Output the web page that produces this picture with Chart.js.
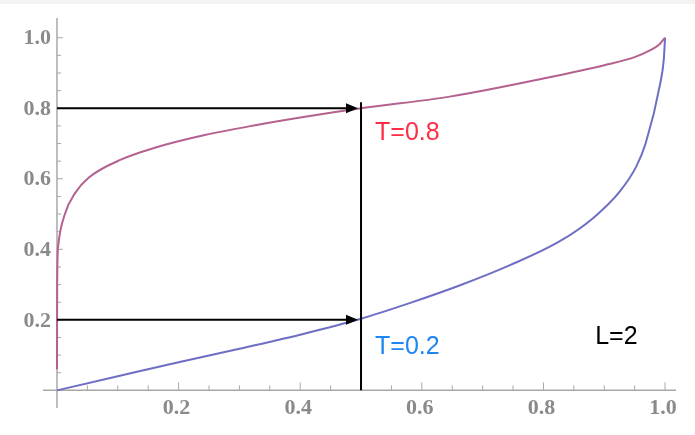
<!DOCTYPE html>
<html lang="en">
<head>
<meta charset="UTF-8">
<title>T curves, L=2</title>
<script src="https://cdn.jsdelivr.net/npm/chart.js"></script>
<style>
  html, body { margin: 0; padding: 0; background: #fff; }
  #wrap { position: relative; width: 695px; height: 435px; }
</style>
</head>
<body>
<div id="wrap"><canvas id="chart"></canvas></div>
<script>
// upper curve (T = 0.8)
const upperX = [0, 0.0003, 0.002, 0.013, 0.03, 0.052, 0.106, 0.161, 0.243, 0.326, 0.408, 0.5, 0.646, 0.81, 0.9, 0.95, 0.975, 0.99, 1.0];
const upperY = [0.06, 0.30, 0.41, 0.50, 0.56, 0.603, 0.655, 0.688, 0.724, 0.752, 0.776, 0.80, 0.833, 0.888, 0.922, 0.945, 0.964, 0.98, 1.0];

// lower curve (T = 0.2)
const lowerX = [0, 0.1, 0.2, 0.3, 0.4, 0.5, 0.581, 0.663, 0.745, 0.827, 0.882, 0.926, 0.953, 0.968, 0.992, 0.998, 1.0];
const lowerY = [0, 0.04, 0.08, 0.118, 0.158, 0.203, 0.248, 0.298, 0.355, 0.423, 0.489, 0.565, 0.636, 0.70, 0.87, 0.94, 1.0];

const tickValues = [0.2, 0.4, 0.6, 0.8, 1.0];
const tickLabels = ['0.2', '0.4', '0.6', '0.8', '1.0'];
const minorStep = 0.05;

// horizontal arrows at the two T levels, meeting the vertical line at x = 0.5
const arrowLevels = [0.8, 0.2];
const arrowX = 0.5;
const noteTexts = ['T=0.8', 'T=0.2', 'L=2'];

function toPoints(xs, ys) {
    return xs.map((x, i) => ({ x: x, y: ys[i] }));
}

function isMajor(value) {
    return tickValues.some(v => Math.abs(v - value) < 1e-6);
}

const axisColor = '#a8a8a8';
const labelColor = '#8a8a8a';

const decorations = {
    id: 'decorations',
    beforeDraw(chart) {
        const ctx = chart.ctx;
        ctx.save();
        ctx.fillStyle = '#f3f3f3';
        ctx.fillRect(0, 0, chart.width, 4);
        ctx.restore();
    },
    beforeDatasetsDraw(chart) {
        const { ctx, chartArea, scales: { x, y } } = chart;
        const x0 = x.getPixelForValue(0);
        const y0 = y.getPixelForValue(0);
        ctx.save();
        ctx.strokeStyle = axisColor;
        ctx.lineWidth = 1.5;
        ctx.beginPath();
        ctx.moveTo(chartArea.left, y0);
        ctx.lineTo(chartArea.right, y0);
        ctx.moveTo(x0, chartArea.top);
        ctx.lineTo(x0, chartArea.bottom);
        ctx.stroke();

        ctx.lineWidth = 1;
        ctx.beginPath();
        for (let v = minorStep; v <= 1.0001; v += minorStep) {
            const major = isMajor(v);
            const px = x.getPixelForValue(v);
            ctx.moveTo(px, y0);
            ctx.lineTo(px, y0 - (major ? 8 : 5));
            const py = y.getPixelForValue(v);
            ctx.moveTo(x0, py);
            ctx.lineTo(x0 + (major ? 6 : 4), py);
        }
        ctx.stroke();

        // tick labels
        ctx.fillStyle = labelColor;
        ctx.font = 'bold 22px "Liberation Serif", "Times New Roman", serif';
        ctx.textAlign = 'center';
        ctx.textBaseline = 'middle';
        tickValues.forEach((v, i) => {
            ctx.fillText(tickLabels[i], x.getPixelForValue(v) - 2, y0 + 18);
        });
        ctx.textAlign = 'right';
        tickValues.forEach((v, i) => {
            ctx.fillText(tickLabels[i], x0 - 6, y.getPixelForValue(v) + 1);
        });
        ctx.restore();
    },
    afterDatasetsDraw(chart) {
        const { ctx, scales: { x, y } } = chart;
        const x0 = x.getPixelForValue(0);
        const xv = x.getPixelForValue(arrowX);
        ctx.save();
        ctx.strokeStyle = '#000';
        ctx.fillStyle = '#000';
        ctx.lineWidth = 2;

        // vertical line at x = 0.5
        ctx.beginPath();
        ctx.moveTo(xv, y.getPixelForValue(0));
        ctx.lineTo(xv, y.getPixelForValue(arrowLevels[0]) - 6);
        ctx.stroke();

        arrowLevels.forEach(level => {
            const py = y.getPixelForValue(level);
            const tip = xv - 3;
            ctx.beginPath();
            ctx.moveTo(x0, py);
            ctx.lineTo(tip - 10, py);
            ctx.stroke();
            ctx.beginPath();
            ctx.moveTo(tip, py);
            ctx.lineTo(tip - 12, py - 5);
            ctx.lineTo(tip - 12, py + 5);
            ctx.closePath();
            ctx.fill();
        });

        ctx.font = '25px "Liberation Sans", Arial, sans-serif';
        ctx.textAlign = 'left';
        ctx.textBaseline = 'middle';
        ctx.fillStyle = '#ff2d45';
        ctx.fillText(noteTexts[0], x.getPixelForValue(0.523), y.getPixelForValue(0.73));
        ctx.fillStyle = '#1e86f2';
        ctx.fillText(noteTexts[1], x.getPixelForValue(0.523), y.getPixelForValue(0.123));
        ctx.fillStyle = '#000';
        ctx.fillText(noteTexts[2], x.getPixelForValue(0.885), y.getPixelForValue(0.152));
        ctx.restore();
    }
};

new Chart(document.getElementById('chart'), {
    type: 'scatter',
    data: {
        datasets: [
            {
                label: 'T=0.8',
                data: toPoints(upperX, upperY),
                showLine: true,
                borderColor: '#b5608e',
                borderWidth: 2,
                pointRadius: 0,
                cubicInterpolationMode: 'monotone'
            },
            {
                label: 'T=0.2',
                data: toPoints(lowerX, lowerY),
                showLine: true,
                borderColor: '#6e6ec4',
                borderWidth: 2,
                pointRadius: 0,
                cubicInterpolationMode: 'monotone'
            }
        ]
    },
    options: {
        responsive: true,
        maintainAspectRatio: false,
        animation: false,
        layout: { padding: { left: 43, right: 19, top: 18, bottom: 27 } },
        plugins: {
            legend: { display: false },
            tooltip: { enabled: false }
        },
        scales: {
            x: {
                type: 'linear',
                min: -0.023,
                max: 1.018,
                grid: { display: false },
                border: { display: false },
                ticks: { display: false },
                afterFit(scale) { scale.height = 0; }
            },
            y: {
                type: 'linear',
                min: -0.05,
                max: 1.056,
                grid: { display: false },
                border: { display: false },
                ticks: { display: false },
                afterFit(scale) { scale.width = 0; }
            }
        }
    },
    plugins: [decorations]
});
</script>
</body>
</html>
